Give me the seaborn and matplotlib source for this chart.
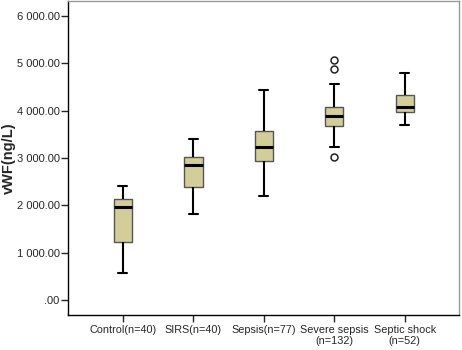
import numpy as np
import pandas as pd
import matplotlib
matplotlib.use("Agg")
import matplotlib.pyplot as plt
import seaborn as sns

groups = ['Control(n=40)', 'SIRS(n=40)', 'Sepsis(n=77)', 'Severe sepsis\n(n=132)', 'Septic shock\n(n=52)']
# box summary (ng/L)
whisker_low = [568, 1810, 2204, 3242, 3698]
q1 = [1221, 2379, 2941, 3670, 3979]
median = [1958, 2863, 3228, 3895, 4084]
q3 = [2126, 3030, 3572, 4078, 4337]
whisker_high = [2400, 3410, 4427, 4568, 4793]
outliers = [[], [], [], [3018, 4877, 5067], []]

yticks = [0, 1000, 2000, 3000, 4000, 5000, 6000]
ytick_labels = ['.00', '1 000.00', '2 000.00', '3 000.00', '4 000.00', '5 000.00', '6 000.00']

# build points that reproduce each box's quartiles exactly
rows = []
for i, g in enumerate(groups):
    pts = [whisker_low[i], whisker_high[i]] + outliers[i]
    pts += [q1[i]] * 20 + [median[i]] * 20 + [q3[i]] * 20
    for v in pts:
        rows.append({'group': g, 'vWF': v})
df = pd.DataFrame(rows)

sns.set_style('white')
plt.rcParams['font.family'] = ['Liberation Sans', 'DejaVu Sans']

fig = plt.figure(figsize=(4.62, 3.5), dpi=100)
ax = fig.add_axes([0.147, 0.1, 0.8465, 0.897])

sns.boxplot(data=df, x='group', y='vWF', order=groups, color='#D3CE97',
            width=0.26, whis=1.5, saturation=1, ax=ax,
            linecolor='#333333', linewidth=1.0,
            boxprops=dict(edgecolor='#555555', linewidth=1.0),
            medianprops=dict(color='black', linewidth=2.2),
            whiskerprops=dict(color='black', linewidth=1.5),
            capprops=dict(color='black', linewidth=1.5),
            flierprops=dict(marker='o', markerfacecolor='none', markeredgecolor='#222222',
                            markersize=5, markeredgewidth=1.1))

ax.set_xlim(-0.78, 4.77)
ax.set_ylim(-316, 6316)
ax.set_yticks(yticks)
ax.set_yticklabels(ytick_labels, fontsize=8)
ax.tick_params(axis='x', labelsize=7.8, length=5, width=1, direction='out', bottom=True, pad=2)
ax.tick_params(axis='y', length=5, width=1, direction='out', left=True, pad=1)
ax.set_xlabel('')
ax.set_ylabel('vWF(ng/L)', fontsize=10.5, fontweight='bold')
ax.yaxis.set_label_coords(-0.133, 0.5)
for s in ['left', 'bottom']:
    ax.spines[s].set_color('black')
    ax.spines[s].set_linewidth(1.0)
for s in ['top', 'right']:
    ax.spines[s].set_color('#999999')
    ax.spines[s].set_linewidth(1.0)

plt.savefig('out.png', dpi=100)
